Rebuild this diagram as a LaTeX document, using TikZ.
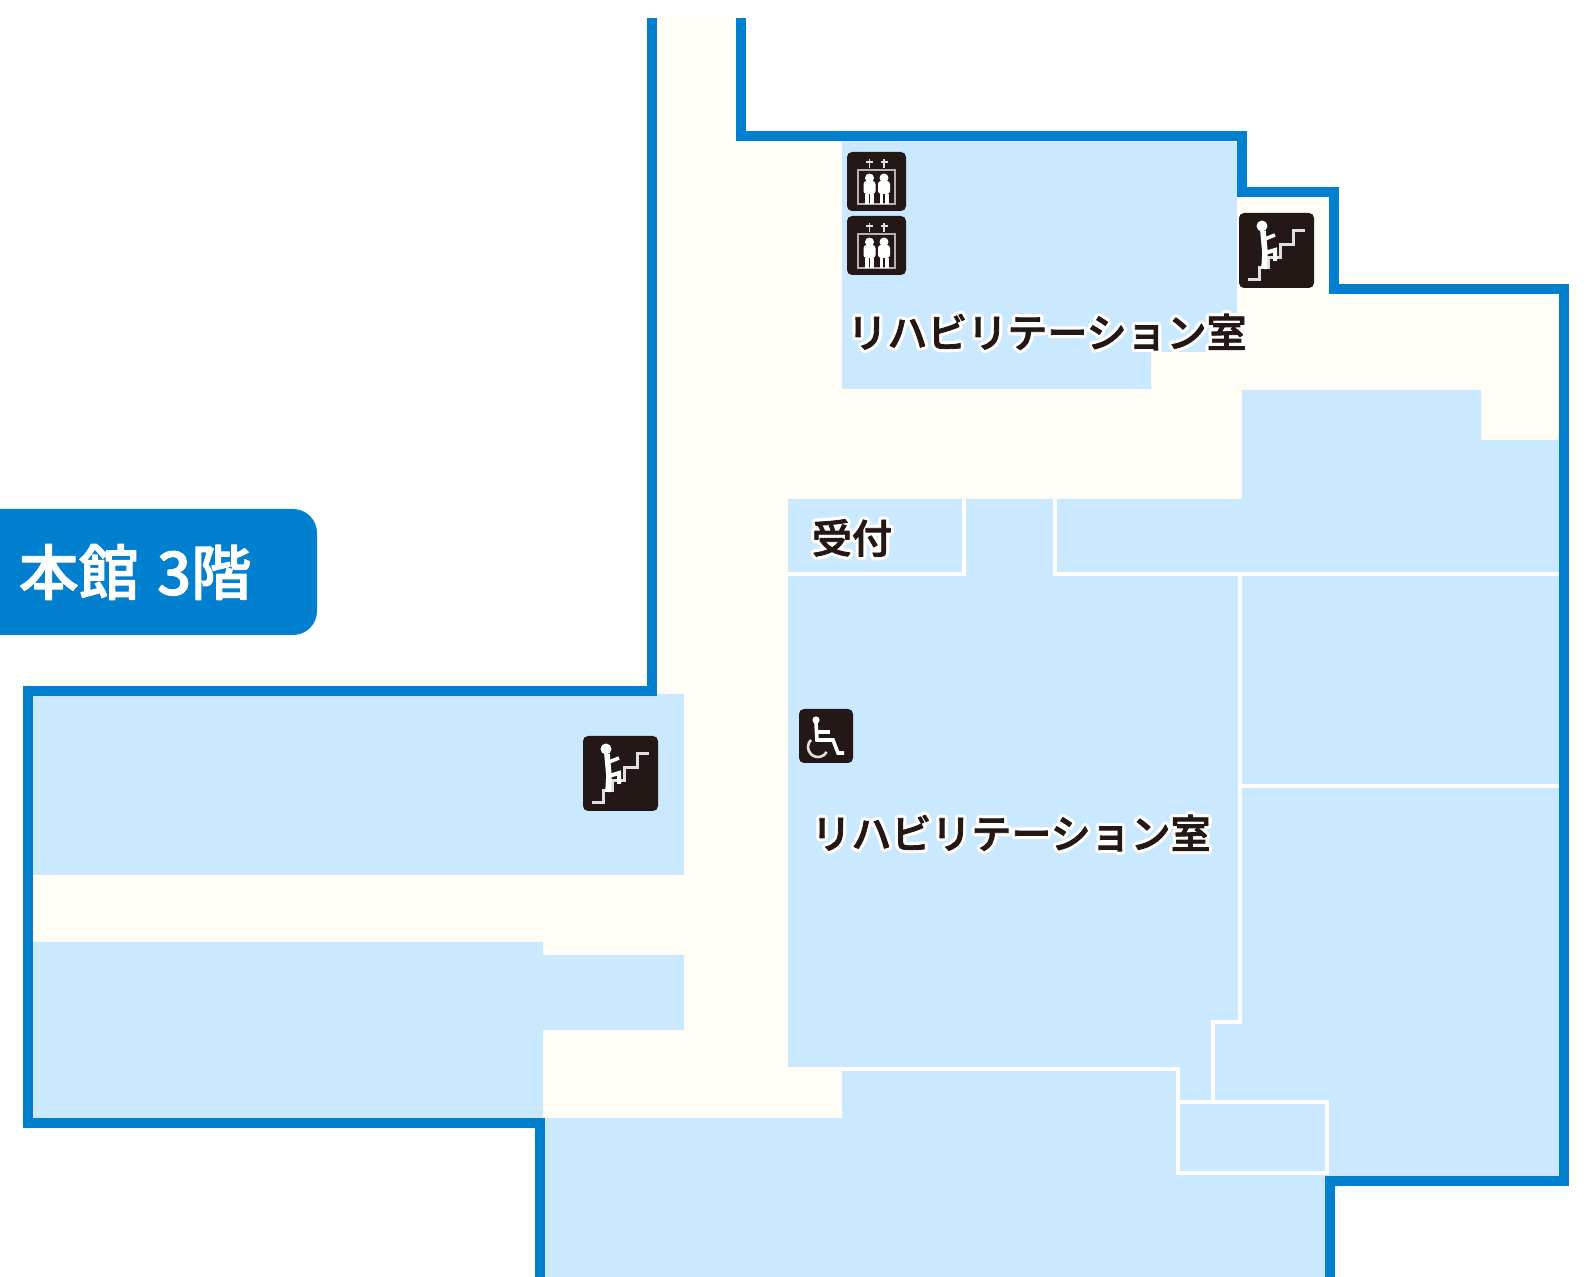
\documentclass[tikz,border=0pt]{standalone}
\usepackage{fontspec}
\newfontfamily\cjk{Noto Sans CJK JP Medium}
\usetikzlibrary{positioning}
\newcommand{\halotext}[1]{\leavevmode\rlap{\special{pdf:code q 1 j 1 J 1 1 1 RG 1 1 1 rg 3.6 w 2 Tr}#1\special{pdf:code Q}}\special{pdf:code q 1 j .137 .094 .082 RG .137 .094 .082 rg .4 w 2 Tr}#1\special{pdf:code Q}}
\newcommand{\floortext}[1]{\leavevmode\special{pdf:code q 1 j 1 1 1 RG 1 1 1 rg .5 w 2 Tr}#1\special{pdf:code Q}}
\definecolor{wallblue}{HTML}{0080CE}
\definecolor{roomblue}{HTML}{CAE9FF}
\definecolor{corridor}{HTML}{FFFDF5}
\definecolor{iconblack}{HTML}{231815}
\tikzset{
  wall/.style={draw=wallblue,line width=5.2pt,miter limit=10},
  room/.style={fill=roomblue},
  partition/.style={draw=corridor,line width=2.2pt},
  iconbox/.style={fill=iconblack,rounded corners=2.5pt},
  iconline/.style={draw=white!88!black,line width=1.5pt},
  roomlabel/.style={font=\cjk\fontsize{20}{20}\selectfont,inner sep=0pt,text=iconblack},
  floorlabel/.style={fill=wallblue,text=white,rounded corners=12pt,minimum width=182pt,minimum height=63pt,
    font=\cjk\fontsize{30}{30}\selectfont,inner sep=0pt},
  stairicon/.pic={
    \fill[iconbox] (0,0) rectangle (75,75);
    \draw[iconline] (9,67) -- (20,67) -- (20,55) -- (29,55) -- (29,45) -- (41,45) -- (41,32) -- (54,32) -- (54,18) -- (66,18);
    \fill[white] (23,13) circle (5.5);
    \draw[white,line width=2.8pt] (24,18) -- (26,40) -- (25,56);
    \draw[white,line width=1.8pt] (26,26) -- (36,22);
    \draw[white,line width=2pt] (26,40) -- (36,37) -- (36,48);
  },
  elevicon/.pic={
    \fill[iconbox] (0,0) rectangle (59,59);
    \draw[iconline,line width=1pt,draw=white!70!black] (11,52) -- (11,18) -- (48,18) -- (48,52) -- cycle;
    \foreach \px in {22.5,37}{
      \draw[iconline,line width=.9pt] (\px,7) -- (\px,16);
      \draw[iconline,line width=.9pt] (\px-3.5,10) -- (\px+3.5,10);
      \fill[white] (\px,26) circle (4.5);
      \fill[white,rounded corners=1.5pt] (\px-6,29) rectangle (\px+6,42);
      \fill[white] (\px-4.5,42) rectangle (\px-.7,52);
      \fill[white] (\px+.7,42) rectangle (\px+4.5,52);
    }
  },
  wheelicon/.pic={
    \fill[iconbox] (0,0) rectangle (54,54);
    \fill[white] (17,11) circle (3.6);
    \draw[white,line width=1.8pt] (17,14) -- (18,31) -- (34,31) -- (39,44) -- (45,44);
    \draw[white,line width=1.8pt] (19,23) -- (31,23);
    \draw[iconline,line width=1.3pt] (19,38) ++(225:10) arc[start angle=225,end angle=30,radius=10];
  }
}
\begin{document}
\begin{tikzpicture}[x=0.5pt,y=-0.5pt]
\useasboundingbox (0,0) rectangle (1591,1277);
\fill[white] (0,0) rectangle (1591,1277);

\fill[corridor] (741,18) -- (741,136) -- (1242,136) -- (1242,192) -- (1334,192) -- (1334,289)
  -- (1564,289) -- (1564,1181) -- (1330,1181) -- (1330,1277) -- (540,1277) -- (540,1123)
  -- (28,1123) -- (28,691) -- (652,691) -- (652,18) -- cycle;

\fill[room] (842,142) -- (1237,142) -- (1237,352) -- (1151,352) -- (1151,389) -- (842,389) -- cycle;
\fill[room] (788,499) -- (1242,499) -- (1242,390) -- (1481,390) -- (1481,440) -- (1559,440)
  -- (1559,1176) -- (1325,1176) -- (1325,1277) -- (545,1277) -- (545,1118) -- (842,1118)
  -- (842,1067) -- (788,1067) -- cycle;
\fill[room] (33,696) -- (652,696) -- (652,694) -- (684,694) -- (684,875) -- (33,875) -- cycle;
\fill[room] (33,942) -- (543,942) -- (543,955) -- (684,955) -- (684,1030) -- (543,1030)
  -- (543,1118) -- (33,1118) -- cycle;

\draw[partition] (788,574) -- (964,574) -- (964,499);
\draw[partition] (1055,499) -- (1055,574) -- (1559,574);
\draw[partition] (1240,574) -- (1240,1022) -- (1213,1022) -- (1213,1102);
\draw[partition] (1240,786) -- (1559,786);
\draw[partition] (842,1069) -- (1178,1069) -- (1178,1173) -- (1327,1173) -- (1327,1102) -- (1178,1102);

\draw[wall] (741,18) -- (741,136) -- (1242,136) -- (1242,192) -- (1334,192) -- (1334,289)
  -- (1564,289) -- (1564,1181) -- (1330,1181) -- (1330,1277);
\draw[wall] (652,18) -- (652,691) -- (28,691) -- (28,1123) -- (540,1123) -- (540,1277);

\pic (eleva) at (847,152) {elevicon};
\pic (elevb) at (847,216) {elevicon};
\pic (stairb) at (1239,213) {stairicon};
\pic (staira) at (583,736) {stairicon};
\pic (wheel) at (799,709) {wheelicon};

\node[roomlabel,anchor=center] (rehabtop) at (1047,332) {\halotext{リハビリテーション室}};
\node[roomlabel,anchor=center] (rehabmain) at (1011,833) {\halotext{リハビリテーション室}};
\node[roomlabel,anchor=center] (reception) at (852,538) {\halotext{受付}};
\node[floorlabel] (floor) at (135,572) {\floortext{本館\hspace{.08em} 3階}};
\end{tikzpicture}
\end{document}
